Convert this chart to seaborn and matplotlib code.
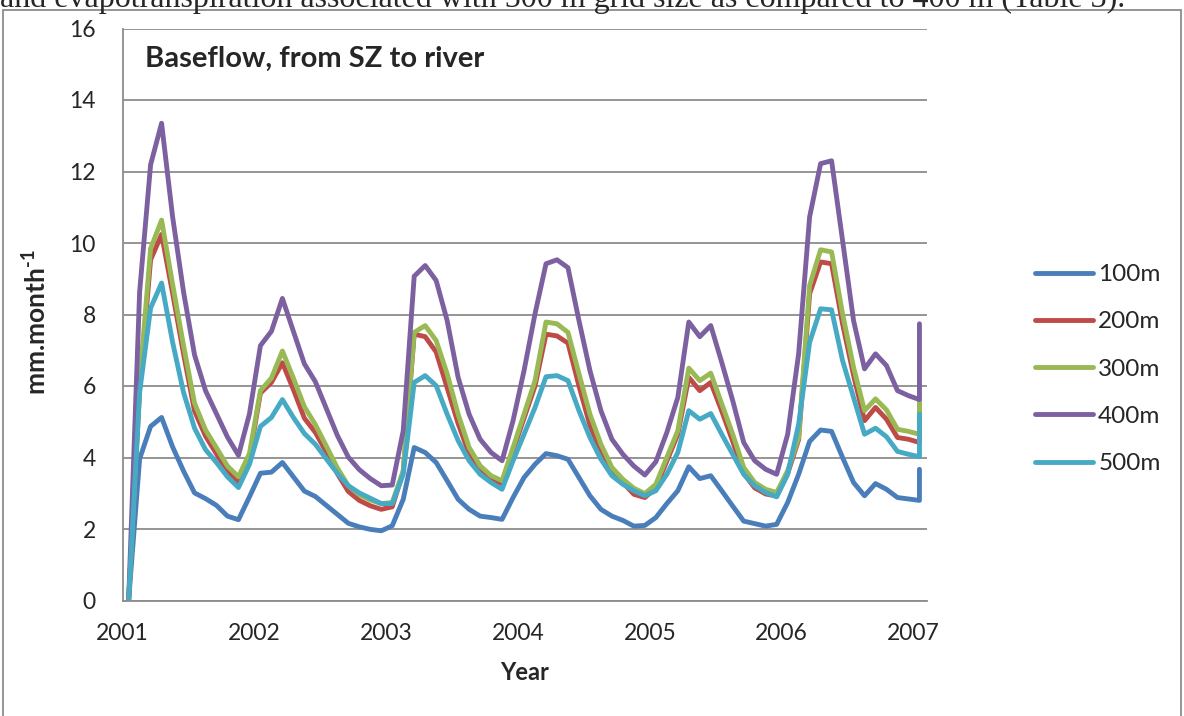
import numpy as np
import pandas as pd
import matplotlib
matplotlib.use("Agg")
import matplotlib.pyplot as plt
import seaborn as sns
from matplotlib.patches import Rectangle

# --- 資料 (由圖讀取, 月資料 2001-01 ~ 2007-01, 最後一點為期末跳升) ---
grid_sizes = ['100m', '200m', '300m', '400m', '500m']

month_index = list(range(73)) + [72]

flow_100m = [0, 3.96, 4.87, 5.12, 4.30, 3.62, 3.01, 2.85, 2.66, 2.36, 2.26, 2.90,
             3.56, 3.59, 3.86, 3.46, 3.06, 2.91, 2.66, 2.41, 2.16, 2.06, 1.99, 1.95,
             2.09, 2.83, 4.28, 4.14, 3.86, 3.35, 2.83, 2.55, 2.36, 2.32, 2.27, 2.88,
             3.44, 3.81, 4.11, 4.05, 3.95, 3.44, 2.93, 2.55, 2.36, 2.24, 2.08, 2.10,
             2.32, 2.71, 3.07, 3.74, 3.41, 3.49, 3.07, 2.64, 2.22, 2.15, 2.08, 2.13,
             2.74, 3.53, 4.45, 4.77, 4.73, 4.00, 3.30, 2.93, 3.27, 3.11, 2.88, 2.84,
             2.80, 3.67]
flow_200m = [0, 5.90, 9.53, 10.24, 8.60, 6.90, 5.30, 4.60, 4.10, 3.60, 3.30, 4.00,
             5.80, 6.10, 6.65, 5.90, 5.10, 4.70, 4.15, 3.55, 3.05, 2.80, 2.65, 2.55,
             2.62, 3.60, 7.45, 7.38, 6.95, 5.95, 4.95, 4.10, 3.65, 3.38, 3.27, 4.20,
             5.10, 6.00, 7.45, 7.40, 7.20, 6.00, 4.90, 4.15, 3.60, 3.30, 2.97, 2.88,
             3.15, 3.90, 4.65, 6.24, 5.87, 6.10, 5.30, 4.45, 3.55, 3.15, 2.98, 2.92,
             3.55, 4.50, 8.58, 9.47, 9.42, 7.74, 6.30, 5.03, 5.40, 5.07, 4.56, 4.51,
             4.42, 5.50]
flow_300m = [0, 6.10, 9.84, 10.64, 8.85, 7.13, 5.52, 4.77, 4.27, 3.76, 3.46, 4.11,
             5.87, 6.22, 6.98, 6.22, 5.42, 4.92, 4.32, 3.71, 3.21, 2.96, 2.81, 2.71,
             2.74, 3.63, 7.50, 7.69, 7.27, 6.34, 5.21, 4.28, 3.77, 3.49, 3.35, 4.28,
             5.21, 6.15, 7.79, 7.74, 7.50, 6.34, 5.21, 4.37, 3.72, 3.39, 3.14, 2.99,
             3.25, 4.00, 4.75, 6.50, 6.15, 6.36, 5.50, 4.65, 3.72, 3.30, 3.11, 3.02,
             3.63, 4.56, 8.81, 9.81, 9.75, 8.02, 6.52, 5.31, 5.64, 5.33, 4.79, 4.73,
             4.65, 5.60]
flow_400m = [0, 8.63, 12.19, 13.35, 10.74, 8.63, 6.87, 5.87, 5.22, 4.57, 4.06, 5.22,
             7.13, 7.53, 8.45, 7.53, 6.62, 6.12, 5.37, 4.62, 4.01, 3.66, 3.41, 3.21,
             3.23, 4.75, 9.07, 9.37, 8.95, 7.83, 6.24, 5.21, 4.51, 4.14, 3.91, 5.03,
             6.43, 8.02, 9.42, 9.53, 9.31, 7.83, 6.43, 5.31, 4.51, 4.09, 3.76, 3.51,
             3.88, 4.70, 5.68, 7.79, 7.38, 7.69, 6.66, 5.59, 4.42, 3.91, 3.67, 3.53,
             4.65, 6.90, 10.73, 12.22, 12.30, 10.07, 7.83, 6.48, 6.90, 6.57, 5.87, 5.73,
             5.62, 7.74]
flow_500m = [0, 5.82, 8.18, 8.88, 7.23, 5.82, 4.82, 4.22, 3.86, 3.46, 3.16, 3.81,
             4.87, 5.12, 5.62, 5.12, 4.67, 4.37, 3.96, 3.56, 3.21, 3.01, 2.86, 2.71,
             2.71, 3.53, 6.10, 6.29, 6.01, 5.21, 4.47, 3.91, 3.53, 3.30, 3.11, 3.91,
             4.65, 5.40, 6.26, 6.29, 6.15, 5.31, 4.56, 3.95, 3.49, 3.25, 3.07, 2.93,
             3.07, 3.53, 4.14, 5.31, 5.07, 5.23, 4.65, 4.09, 3.53, 3.21, 3.02, 2.90,
             3.53, 4.93, 7.22, 8.16, 8.13, 6.71, 5.68, 4.65, 4.82, 4.58, 4.17, 4.09,
             4.02, 5.21]

year_ticks = [2001, 2002, 2003, 2004, 2005, 2006, 2007]
y_ticks = [0, 2, 4, 6, 8, 10, 12, 14, 16]
line_colors = ['#4A7EBB', '#BE4B48', '#98B954', '#7D60A0', '#46AAC5']

# --- 整理成長表 ---
series = [flow_100m, flow_200m, flow_300m, flow_400m, flow_500m]
frames = []
for name, vals in zip(grid_sizes, series):
    frames.append(pd.DataFrame({
        'Year': 2001.045 + np.array(month_index) / 12.0,
        'Baseflow': vals,
        'Grid': name,
    }))
df = pd.concat(frames, ignore_index=True)

# --- 樣式 ---
sns.set_style("white")
plt.rcParams['font.family'] = ['Lato', 'DejaVu Sans']
plt.rcParams['mathtext.fontset'] = 'custom'
plt.rcParams['mathtext.rm'] = 'Lato:bold'
plt.rcParams['mathtext.bf'] = 'Lato:bold'

W, H = 1184, 716
fig = plt.figure(figsize=(W / 100, H / 100), dpi=100)
ax = fig.add_axes([122.7 / W, 1 - 600.5 / H, (926.7 - 122.7) / W, (600.5 - 28.5) / H])

sns.lineplot(data=df, x='Year', y='Baseflow', hue='Grid', hue_order=grid_sizes,
             palette=line_colors, estimator=None, sort=False, lw=3.5,
             solid_joinstyle='round', solid_capstyle='round', ax=ax, legend=True)

grid_gray = '#8C8C8C'
ax.set_xlim(2001, 2007.10)
ax.set_ylim(0, 16)
ax.set_yticks(y_ticks)
ax.set_xticks(year_ticks)
ax.set_xticklabels([str(y) for y in year_ticks])
ax.yaxis.grid(True, color=grid_gray, lw=1.3)
ax.xaxis.grid(False)
ax.set_axisbelow(True)
for side in ['top', 'right']:
    ax.spines[side].set_visible(False)
for side in ['left', 'bottom']:
    ax.spines[side].set_color(grid_gray)
    ax.spines[side].set_linewidth(1.3)
ax.tick_params(axis='y', length=5.8, width=1.3, color=grid_gray, pad=13.5, labelsize=16.5)
ax.tick_params(axis='x', length=4.5, width=1.3, color=grid_gray, pad=12, labelsize=16.5)
ax.set_xlabel('')
ax.set_ylabel('')

# 圖例
handles, labels = ax.get_legend_handles_labels()
for h in handles:
    h.set_linewidth(3.5)
ax.legend(handles, labels, loc='upper left', frameon=False,
          bbox_to_anchor=(1035 / W, 1 - 264 / H), bbox_transform=fig.transFigure,
          borderpad=0, borderaxespad=0, handlelength=2.4, handletextpad=0.2,
          labelspacing=1.08, fontsize=17.5)

# 圖內標題與軸標籤
fig.text(145 / W, 1 - 67 / H, 'Baseflow, from SZ to river', fontsize=21,
         fontweight='bold', va='baseline', ha='left')
fig.text(524.7 / W, 1 - 672 / H, 'Year', fontsize=17, fontweight='bold',
         ha='center', va='center')
fig.text(36 / W, 1 - 322 / H, r'mm.month$^{\text{-1}}$', fontsize=19,
         fontweight='bold', rotation=90, ha='center', va='center')

# 圖表外框與上方文件文字
fig.patches.append(Rectangle((3 / W, -0.01), (1181 - 3) / W, 1 - 10 / H + 0.01,
                             transform=fig.transFigure, fill=False,
                             edgecolor='#8C8C8C', lw=1.3))
fig.text(0, 1 - 7 / H,
         'and evapotranspiration associated with 500 m grid size as compared to 400 m (Table 3).',
         fontsize=23, family=['Liberation Serif', 'DejaVu Serif'], va='baseline', ha='left')

fig.savefig('out.png', dpi=100)
